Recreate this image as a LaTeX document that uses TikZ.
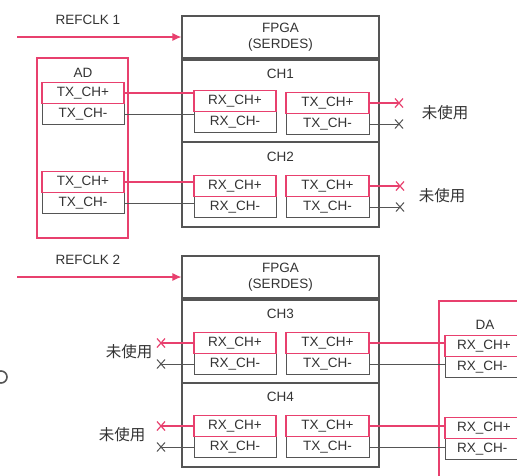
\documentclass[tikz,border=0pt]{standalone}
\usepackage{fontspec}
\setmainfont{Liberation Sans}
\newfontfamily\jp{Noto Sans CJK JP}
\usetikzlibrary{arrows.meta}
\definecolor{pk}{HTML}{E8406E}
\definecolor{gr}{HTML}{555555}
\definecolor{tx}{HTML}{333333}
\newcommand{\lblfont}{\fontsize{13.5}{14}\selectfont}
\tikzset{
  pkbox/.style={draw=pk, line width=1.1pt, minimum width=82pt, minimum height=21pt, inner sep=0pt, font=\lblfont, text=tx},
  grbox/.style={draw=gr, line width=1pt, minimum width=82pt, minimum height=21pt, inner sep=0pt, font=\lblfont, text=tx},
  lbl/.style={font=\lblfont, text=tx, inner sep=0pt},
  jplbl/.style={font=\jp\fontsize{15.5}{16}\selectfont, text=tx, inner sep=0pt},
  pkline/.style={draw=pk, line width=1.2pt},
  grline/.style={draw=gr, line width=1pt},
  frame/.style={draw=gr, line width=1.1pt},
  pkframe/.style={draw=pk, line width=1.3pt},
  clkarrow/.style={pkline, -{Latex[length=9pt,width=8pt]}},
}
\newcommand{\xcross}[2]{\draw[#2] (#1) ++(-4,-4.5) -- ++(8,9) (#1) ++(-4,4.5) -- ++(8,-9);}
\begin{document}
\begin{tikzpicture}[x=1pt,y=-1pt]
\clip (0,0) rectangle (517,475);
\fill[white] (0,0) rectangle (517,475);

% ---------- REFCLK 1 ----------
\node[lbl] (rc1) at (88,20) {REFCLK 1};
\coordinate (rc1in) at (17,37);

% ---------- AD ----------
\draw[pkframe] (37,58) rectangle (128,238);
\node[lbl] (ad) at (83,73) {AD};
\node[grbox] (ad1m) at (83,114) {TX\_CH-};
\node[pkbox] (ad1p) at (83,93) {TX\_CH+};
\node[grbox] (ad2m) at (83,203) {TX\_CH-};
\node[pkbox] (ad2p) at (83,182) {TX\_CH+};

% ---------- FPGA 1 ----------
\node[frame, minimum width=197pt, minimum height=42pt, inner sep=0pt] (f1h) at (280.5,37) {};
\node[lbl] at (280.5,28) {FPGA};
\node[lbl] at (280.5,45) {(SERDES)};
\draw[frame] (182,60) rectangle (379,227);
\draw[frame] (182,59) -- (379,59);
\draw[frame] (182,142) -- (379,142);
\node[lbl] at (280.5,74) {CH1};
\node[lbl] at (280.5,157) {CH2};
\node[grbox] (rx1m) at (235,122) {RX\_CH-};
\node[pkbox] (rx1p) at (235,101) {RX\_CH+};
\node[grbox, minimum width=83pt] (tx1m) at (327.5,124) {TX\_CH-};
\node[pkbox, minimum width=83pt] (tx1p) at (327.5,103) {TX\_CH+};
\node[grbox] (rx2m) at (235,207) {RX\_CH-};
\node[pkbox] (rx2p) at (235,186) {RX\_CH+};
\node[grbox, minimum width=83pt] (tx2m) at (327.5,207) {TX\_CH-};
\node[pkbox, minimum width=83pt] (tx2p) at (327.5,186) {TX\_CH+};

\draw[clkarrow] (rc1in) -- (f1h.west);

\draw[pkline] (ad1p.east) -- (ad1p.east -| rx1p.west);
\draw[grline] (ad1m.east) -- (ad1m.east -| rx1m.west);
\draw[pkline] (ad2p.east) -- (ad2p.east -| rx2p.west);
\draw[grline] (ad2m.east) -- (ad2m.east -| rx2m.west);

\coordinate (u1p) at (399,103);
\coordinate (u1m) at (399,124);
\coordinate (u2p) at (400,186);
\coordinate (u2m) at (400,207);
\draw[pkline] (tx1p.east) -- (u1p); \xcross{u1p}{pkline}
\draw[grline] (tx1m.east) -- (u1m); \xcross{u1m}{grline}
\draw[pkline] (tx2p.east) -- (u2p); \xcross{u2p}{pkline}
\draw[grline] (tx2m.east) -- (u2m); \xcross{u2m}{grline}
\node[jplbl] at (445,113) {未使用};
\node[jplbl] at (442,196) {未使用};

% ---------- REFCLK 2 ----------
\node[lbl] (rc2) at (88,260) {REFCLK 2};
\coordinate (rc2in) at (17,277);

% ---------- FPGA 2 ----------
\node[frame, minimum width=197pt, minimum height=42pt, inner sep=0pt] (f2h) at (280.5,277) {};
\node[lbl] at (280.5,268) {FPGA};
\node[lbl] at (280.5,285) {(SERDES)};
\draw[frame] (182,300) rectangle (379,467);
\draw[frame] (182,299) -- (379,299);
\draw[frame] (182,383) -- (379,383);
\node[lbl] at (280.5,314) {CH3};
\node[lbl] at (280.5,397) {CH4};
\node[grbox] (rx3m) at (235,364) {RX\_CH-};
\node[pkbox] (rx3p) at (235,343) {RX\_CH+};
\node[grbox, minimum width=83pt] (tx3m) at (327.5,364) {TX\_CH-};
\node[pkbox, minimum width=83pt] (tx3p) at (327.5,343) {TX\_CH+};
\node[grbox] (rx4m) at (235,447) {RX\_CH-};
\node[pkbox] (rx4p) at (235,426) {RX\_CH+};
\node[grbox, minimum width=83pt] (tx4m) at (327.5,447) {TX\_CH-};
\node[pkbox, minimum width=83pt] (tx4p) at (327.5,426) {TX\_CH+};

\draw[clkarrow] (rc2in) -- (f2h.west);

\coordinate (u3p) at (161,343);
\coordinate (u3m) at (161,364);
\coordinate (u4p) at (161,426);
\coordinate (u4m) at (161,447);
\draw[pkline] (rx3p.west) -- (u3p); \xcross{u3p}{pkline}
\draw[grline] (rx3m.west) -- (u3m); \xcross{u3m}{grline}
\draw[pkline] (rx4p.west) -- (u4p); \xcross{u4p}{pkline}
\draw[grline] (rx4m.west) -- (u4m); \xcross{u4m}{grline}
\node[jplbl] at (129,352) {未使用};
\node[jplbl] at (122,435) {未使用};

% ---------- DA ----------
\draw[pkframe] (439,301) rectangle (545,495);
\node[lbl] (da) at (485,325) {DA};
\node[grbox, minimum width=95pt, text width=71pt, align=left] (da1m) at (492.5,367) {RX\_CH-};
\node[pkbox, minimum width=95pt, text width=71pt, align=left] (da1p) at (492.5,346) {RX\_CH+};
\node[grbox, minimum width=95pt, text width=71pt, align=left] (da2m) at (492.5,449) {RX\_CH-};
\node[pkbox, minimum width=95pt, text width=71pt, align=left] (da2p) at (492.5,428) {RX\_CH+};

\draw[pkline] (tx3p.east) -- (tx3p.east -| da1p.west);
\draw[grline] (tx3m.east) -- (tx3m.east -| da1m.west);
\draw[pkline] (tx4p.east) -- (tx4p.east -| da2p.west);
\draw[grline] (tx4m.east) -- (tx4m.east -| da2m.west);

% ---------- stray mark at left edge ----------
\draw[gr, line width=1.6pt] (1,377) circle (6);
\end{tikzpicture}
\end{document}
